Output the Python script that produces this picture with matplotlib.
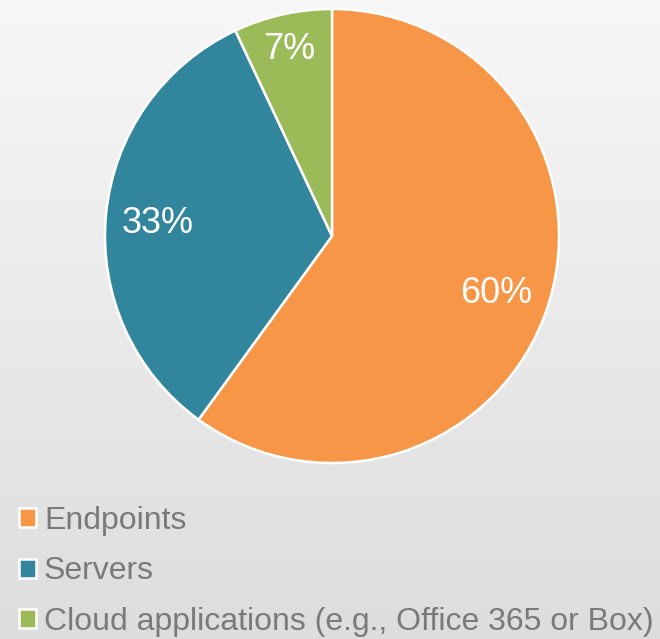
import numpy as np
import matplotlib
matplotlib.use("Agg")
import matplotlib.pyplot as plt

plt.rcParams['font.family'] = ['Liberation Sans', 'DejaVu Sans']

# data
labels = ['Endpoints', 'Servers', 'Cloud applications (e.g., Office 365 or Box)']
values = [60, 33, 7]
colors = ['#f79646', '#31859c', '#9bbb59']
label_dist = [0.76, 0.77, 0.86]

fig = plt.figure(figsize=(6.6, 6.39), dpi=100)

# background gradient
bg = fig.add_axes([0, 0, 1, 1])
grad = np.linspace(0, 1, 256).reshape(-1, 1)
bg.imshow(grad, aspect='auto', cmap=matplotlib.colors.LinearSegmentedColormap.from_list(
    'g', ['#f7f7f7', '#dddddd']), extent=[0, 1, 0, 1], origin='upper')
bg.set_axis_off()

W, H = 660, 639
cx, cy, r = 332, 236, 227
ax = fig.add_axes([(cx - r) / W, (H - cy - r) / H, 2 * r / W, 2 * r / H])
wedges, _ = ax.pie(values, colors=colors, startangle=90, counterclock=False,
                   wedgeprops=dict(edgecolor='white', linewidth=1.8))
ax.set_xlim(-1, 1)
ax.set_ylim(-1, 1)
ax.set_aspect('equal')
ax.set_axis_off()

# percent labels
start = 90.0
for v, d in zip(values, label_dist):
    mid = np.deg2rad(start - v / sum(values) * 360 / 2)
    ax.text(d * np.cos(mid), d * np.sin(mid), f'{v}%', color='white',
            fontsize=26, ha='center', va='center_baseline')
    start -= v / sum(values) * 360

leg = fig.legend(wedges, labels, loc='upper left', bbox_to_anchor=(19 / W, 1 - 506 / H),
                 frameon=False, fontsize=23, handlelength=0.54, handleheight=0.54,
                 handletextpad=0.24, labelspacing=0.64, borderaxespad=0, borderpad=0)
for t in leg.get_texts():
    t.set_color('#7a7a7a')

fig.savefig('out.png', dpi=100)
